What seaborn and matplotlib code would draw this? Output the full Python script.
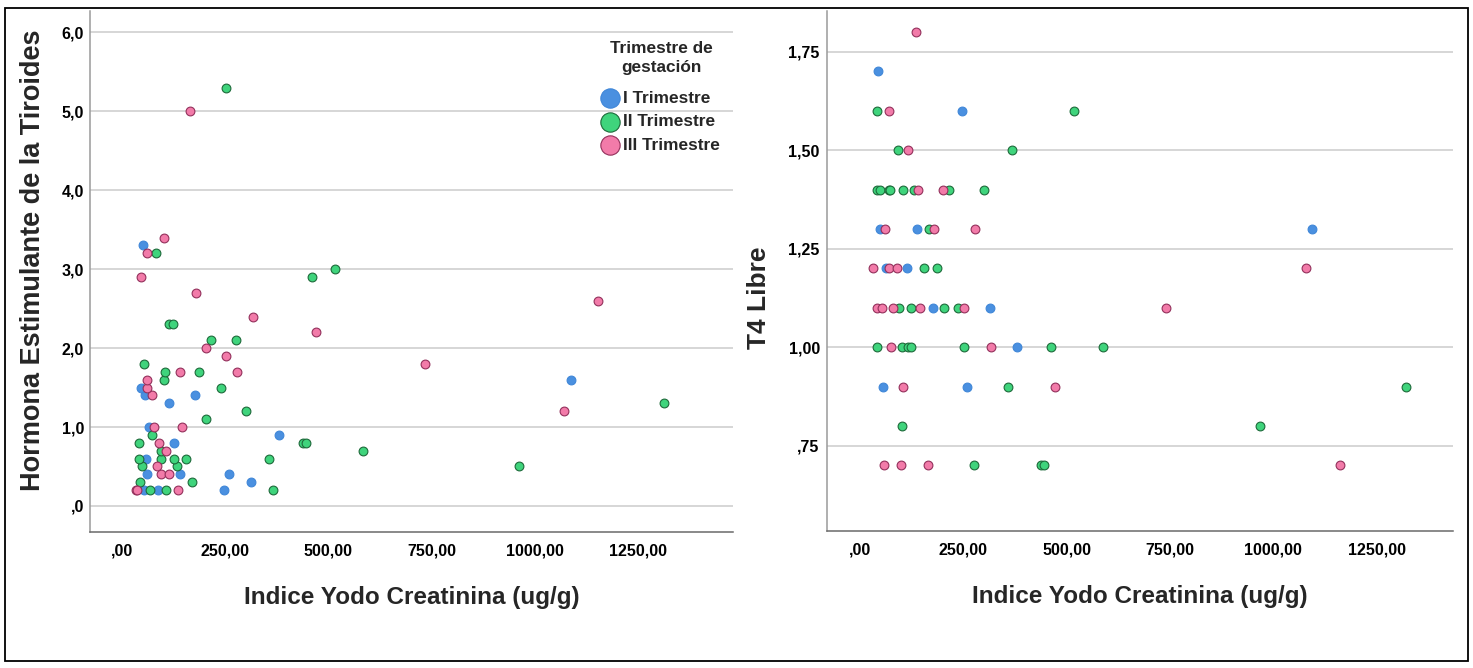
import matplotlib
matplotlib.use("Agg")
import matplotlib.pyplot as plt
import seaborn as sns
import pandas as pd
from matplotlib.patches import Rectangle
from matplotlib.font_manager import FontProperties

# ---------------- data ----------------
groups = ["I Trimestre", "II Trimestre", "III Trimestre"]

# Left panel: TSH vs iodine/creatinine index
tsh_t1_x = [54, 89, 248, 313, 60, 141, 260, 58, 127, 381, 67, 115, 56, 178, 46, 51, 1086]
tsh_t1_y = [0.2, 0.2, 0.2, 0.3, 0.4, 0.4, 0.4, 0.6, 0.8, 0.9, 1.0, 1.3, 1.4, 1.4, 1.5, 3.3, 1.6]

tsh_t2_x = [69, 107, 367, 44, 169, 50, 135, 961, 42, 95, 126, 156, 356, 94, 585, 43, 438, 445,
            74, 204, 300, 1311, 240, 102, 104, 188, 54, 216, 276, 115, 124, 460, 515, 82, 252]
tsh_t2_y = [0.2, 0.2, 0.2, 0.3, 0.3, 0.5, 0.5, 0.5, 0.6, 0.6, 0.6, 0.6, 0.6, 0.7, 0.7, 0.8, 0.8, 0.8,
            0.9, 1.1, 1.2, 1.3, 1.5, 1.6, 1.7, 1.7, 1.8, 2.1, 2.1, 2.3, 2.3, 2.9, 3.0, 3.2, 5.3]

tsh_t3_x = [34, 38, 137, 95, 115, 85, 107, 90, 79, 145, 73, 62, 60, 141, 278, 252, 203, 469,
            317, 180, 46, 62, 102, 165, 734, 1070, 1153]
tsh_t3_y = [0.2, 0.2, 0.2, 0.4, 0.4, 0.5, 0.7, 0.8, 1.0, 1.0, 1.4, 1.5, 1.6, 1.7, 1.7, 1.9, 2.0, 2.2,
            2.4, 2.7, 2.9, 3.2, 3.4, 5.0, 1.8, 1.2, 2.6]

# Right panel: free T4 vs iodine/creatinine index
t4_t1_x = [44, 247, 48, 138, 1094, 63, 113, 177, 315, 381, 56, 259]
t4_t1_y = [1.7, 1.6, 1.3, 1.3, 1.3, 1.2, 1.2, 1.1, 1.1, 1.0, 0.9, 0.9]

t4_t2_x = [40, 517, 93, 368, 40, 48, 69, 73, 105, 131, 216, 300, 167, 155, 187, 94, 123, 203, 236,
           40, 101, 115, 123, 252, 461, 587, 357, 1321, 102, 968, 276, 437, 445]
t4_t2_y = [1.6, 1.6, 1.5, 1.5, 1.4, 1.4, 1.4, 1.4, 1.4, 1.4, 1.4, 1.4, 1.3, 1.2, 1.2, 1.1, 1.1, 1.1, 1.1,
           1.0, 1.0, 1.0, 1.0, 1.0, 1.0, 1.0, 0.9, 0.9, 0.8, 0.8, 0.7, 0.7, 0.7]

t4_t3_x = [136, 69, 115, 140, 202, 60, 179, 278, 32, 70, 90, 1078, 42, 52, 81, 144, 252, 740,
           76, 318, 105, 472, 58, 99, 164, 1161]
t4_t3_y = [1.8, 1.6, 1.5, 1.4, 1.4, 1.3, 1.3, 1.3, 1.2, 1.2, 1.2, 1.2, 1.1, 1.1, 1.1, 1.1, 1.1, 1.1,
           1.0, 1.0, 0.9, 0.9, 0.7, 0.7, 0.7, 0.7]

x_ticks = [0, 250, 500, 750, 1000, 1250]
x_tick_labels = [",00", "250,00", "500,00", "750,00", "1000,00", "1250,00"]
tsh_ticks = [0, 1, 2, 3, 4, 5, 6]
tsh_tick_labels = [",0", "1,0", "2,0", "3,0", "4,0", "5,0", "6,0"]
t4_ticks = [0.75, 1.00, 1.25, 1.50, 1.75]
t4_tick_labels = [",75", "1,00", "1,25", "1,50", "1,75"]

xlabel = "Indice Yodo Creatinina (ug/g)"
tsh_label = "Hormona Estimulante de la Tiroides"
t4_label = "T4 Libre"
legend_title = "Trimestre de\ngestación"

# ---------------- style ----------------
sns.set_style("white")
plt.rcParams["font.family"] = ["Liberation Sans", "DejaVu Sans"]

fill = {"I Trimestre": "#4A90E0", "II Trimestre": "#3FD47C", "III Trimestre": "#F27BA9"}
edge = {"I Trimestre": "#3F86D8", "II Trimestre": "#1D6A3A", "III Trimestre": "#93305B"}

W, H = 1473, 668
fig = plt.figure(figsize=(W / 100, H / 100), dpi=100)

ax1 = fig.add_axes([90 / W, (H - 531.7) / H, 643 / W, (531.7 - 11) / H])
ax2 = fig.add_axes([826.7 / W, (H - 531) / H, 626.6 / W, (531 - 11) / H])


def draw(ax, xs, ys):
    for g, x, y in zip(groups, xs, ys):
        df = pd.DataFrame({"x": x, "y": y})
        sns.scatterplot(data=df, x="x", y="y", ax=ax, color=fill[g], edgecolor=edge[g],
                        linewidth=0.8, s=40, label=g, zorder=3)


draw(ax1, [tsh_t1_x, tsh_t2_x, tsh_t3_x], [tsh_t1_y, tsh_t2_y, tsh_t3_y])
draw(ax2, [t4_t1_x, t4_t2_x, t4_t3_x], [t4_t1_y, t4_t2_y, t4_t3_y])

for ax in (ax1, ax2):
    if ax.get_legend() is not None:
        ax.get_legend().remove()
    ax.set_xticks(x_ticks, x_tick_labels)
    ax.grid(axis="y", color="#cfcfcf", linewidth=1.2, zorder=0)
    ax.grid(axis="x", visible=False)
    ax.set_axisbelow(True)
    for s in ("top", "right"):
        ax.spines[s].set_visible(False)
    ax.spines["left"].set_color("#9a9a9a")
    ax.spines["left"].set_linewidth(1.1)
    ax.spines["bottom"].set_color("#6a6a6a")
    ax.spines["bottom"].set_linewidth(1.1)
    ax.tick_params(axis="both", length=0, labelsize=11.5, labelcolor="black")
    ax.tick_params(axis="x", pad=8.5)
    ax.set_xlabel(xlabel, fontsize=17.5, fontweight="bold", va="center")
    ax.xaxis.set_label_coords(0.5, (531.5 - 597) / 520.5)

ax1.set_yticks(tsh_ticks, tsh_tick_labels)
ax2.set_yticks(t4_ticks, t4_tick_labels)
for ax in (ax1, ax2):
    for lab in ax.get_xticklabels() + ax.get_yticklabels():
        lab.set_fontweight("bold")
ax1.tick_params(axis="y", pad=4.3)
ax2.tick_params(axis="y", pad=5)

ax1.set_xlim(-76.7, 1479)
ax1.set_ylim(-0.326, 6.27)
ax2.set_xlim(-80.6, 1435.5)
ax2.set_ylim(0.5335, 1.853)

ax1.set_ylabel(tsh_label, fontsize=19.5, fontweight="bold", va="center", ha="center")
ax1.yaxis.set_label_coords((33 - 90) / 643, (531.7 - 260) / 520.7)
ax2.set_ylabel(t4_label, fontsize=19, fontweight="bold", va="center", ha="center")
ax2.yaxis.set_label_coords((759 - 826.7) / 626.6, (531 - 298) / 520)

# legend
handles, labels = ax1.get_legend_handles_labels()
fp = FontProperties(family=["Liberation Sans", "DejaVu Sans"], weight="bold", size=12.4)
leg = ax1.legend(handles, labels, title=legend_title, loc="upper center",
                 bbox_to_anchor=(661 / W, 1 - 41 / H), bbox_transform=fig.transFigure,
                 frameon=False, markerscale=2.2, prop=fp, title_fontproperties=fp,
                 handletextpad=0.35, handlelength=0.9, labelspacing=0.5,
                 borderpad=0, borderaxespad=0)
leg.get_title().set_multialignment("center")
leg.get_title().set_linespacing(1.35)
leg._legend_box.sep = 11

# outer frame
fig.patches.append(Rectangle((5 / W, 1 - 661 / H), (1468 - 5) / W, (661 - 8) / H,
                             transform=fig.transFigure, fill=False, lw=1.3, ec="black"))

fig.savefig("out.png", dpi=100)
